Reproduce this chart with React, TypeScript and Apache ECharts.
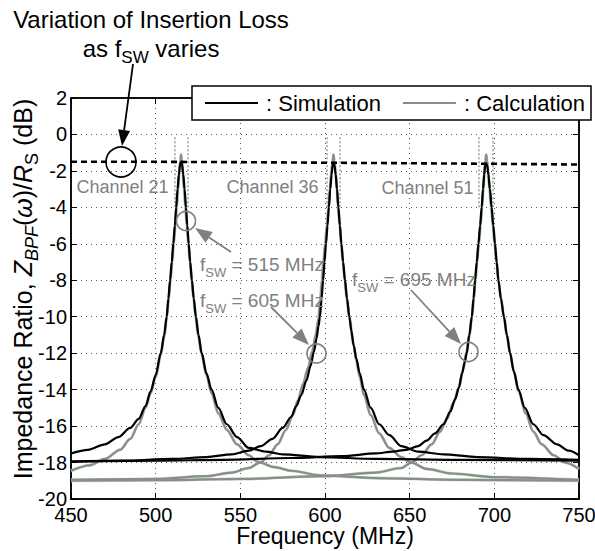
import React, { useEffect, useRef } from 'react';
import * as echarts from 'echarts';

const xMin = 450, xMax = 750, xStep = 50;
const yMin = -20, yMax = 2, yStep = 2;

// Simulation curves (black) [MHz, dB]
const sim21 = [[450,-17.5],[460,-17.3],[470,-17.0],[478,-16.6],[485,-16.1],[490,-15.6],[494,-14.9],[497,-14.1],[500,-13.2],[503,-12.0],[505,-11.0],[506.5,-10.0],[507.5,-9.0],[508.5,-8.0],[509.5,-7.0],[510.4,-6.0],[511.3,-5.0],[512.1,-4.0],[512.9,-3.0],[513.7,-2.2],[514.4,-1.65],[515,-1.5],[515.6,-1.65],[516.3,-2.2],[517.1,-3.0],[517.9,-4.0],[518.7,-5.0],[519.5,-6.0],[520.4,-7.0],[521.4,-8.0],[522.5,-9.0],[523.8,-10.0],[525.3,-11.0],[527.2,-12.0],[530,-13.1],[533,-14.0],[537,-15.0],[542,-15.9],[548,-16.6],[555,-17.2],[565,-17.4],[575,-17.55],[597,-17.7],[630,-17.8],[680,-17.85],[750,-17.9]];
const sim36 = [[450,-17.95],[480,-17.9],[510,-17.8],[530,-17.7],[545,-17.55],[555,-17.35],[562,-17.1],[569,-16.7],[575,-16.1],[580,-15.5],[583,-14.9],[586,-14.3],[589,-13.5],[591.5,-12.7],[593.5,-11.9],[595,-11.2],[596.2,-10.5],[597,-10.0],[598,-9.0],[598.9,-8.0],[599.7,-7.0],[600.6,-6.0],[601.5,-5.0],[602.3,-4.0],[603.1,-3.0],[603.9,-2.2],[604.5,-1.7],[605,-1.55],[605.6,-1.7],[606.3,-2.2],[607.1,-3.0],[607.9,-4.0],[608.8,-5.0],[609.7,-6.0],[610.7,-7.0],[611.8,-8.0],[613,-9.0],[614.4,-10.0],[615.6,-10.8],[617,-11.6],[618.5,-12.3],[620.5,-13.1],[623,-14.0],[627,-15.0],[632,-15.9],[638,-16.5],[645,-17.1],[655,-17.4],[670,-17.55],[690,-17.7],[720,-17.8],[750,-17.85]];
const sim51 = [[450,-17.95],[500,-17.9],[540,-17.85],[580,-17.75],[610,-17.65],[630,-17.5],[640,-17.4],[648,-17.3],[655,-17.1],[660,-16.8],[665,-16.4],[670,-15.9],[674,-15.2],[677,-14.5],[679,-13.9],[681,-13.1],[682.5,-12.5],[683.7,-12.0],[685.2,-11.0],[686.7,-10.0],[687.7,-9.0],[688.6,-8.0],[689.6,-7.0],[690.6,-6.0],[691.6,-5.0],[692.5,-4.0],[693.3,-3.0],[694,-2.2],[694.6,-1.7],[695.2,-1.6],[695.8,-1.7],[696.5,-2.2],[697.4,-3.0],[698.4,-4.0],[699.4,-5.0],[700.4,-6.0],[701.4,-7.0],[702.4,-8.0],[703.9,-9.0],[705.7,-10.0],[707.4,-11.0],[709.3,-12.0],[711.5,-13.0],[714.2,-14.0],[718,-15.0],[723,-15.9],[729,-16.5],[737,-17.0],[744,-17.35],[750,-17.6]];

// Calculation curves (gray)
const calc21 = [[450,-18.45],[461,-18.15],[470,-17.8],[479,-17.3],[485,-16.7],[490,-15.9],[494,-15.0],[497,-14.2],[500,-13.3],[503,-12.1],[505,-11.1],[506.6,-10.0],[507.7,-9.0],[508.7,-8.0],[509.7,-7.0],[510.6,-6.0],[511.6,-5.0],[512.4,-4.0],[513.2,-3.0],[514,-2.0],[514.6,-1.4],[515,-1.1],[515.4,-1.4],[516,-2.0],[516.8,-3.0],[517.6,-4.0],[518.4,-5.0],[519.4,-6.0],[520.3,-7.0],[521.3,-8.0],[522.4,-9.0],[523.6,-10.0],[525.1,-11.0],[527,-12.0],[530,-13.2],[533,-14.2],[537,-15.3],[542,-16.2],[548,-17.0],[555,-17.6],[560,-17.95],[570,-18.25],[580,-18.45],[597,-18.7],[630,-18.85],[680,-18.95],[750,-19.0]];
const calc36 = [[450,-18.95],[500,-18.9],[530,-18.75],[545,-18.55],[555,-18.3],[561.6,-18.0],[567,-17.6],[572,-17.0],[577,-16.2],[581,-15.4],[584,-14.6],[587,-13.7],[590,-12.8],[592.5,-11.9],[594.5,-11.0],[596.2,-10.1],[597.2,-9.1],[598.2,-8.0],[599.1,-7.0],[600.1,-6.0],[601.1,-5.0],[602.1,-4.0],[602.9,-3.0],[603.8,-2.0],[604.5,-1.45],[605,-1.1],[605.5,-1.45],[606.2,-2.0],[607,-3.0],[607.8,-4.0],[608.7,-5.0],[609.6,-6.0],[610.6,-7.0],[611.7,-8.0],[612.9,-9.0],[614.3,-10.0],[616.8,-11.5],[618.5,-12.4],[620.5,-13.3],[623,-14.3],[627,-15.4],[632,-16.4],[638,-17.2],[645,-17.7],[651,-18.0],[660,-18.35],[675,-18.6],[700,-18.8],[750,-18.95]];
const calc51 = [[450,-19.0],[500,-18.97],[550,-18.9],[600,-18.75],[630,-18.55],[645,-18.3],[651,-18.0],[657,-17.6],[663,-17.0],[668,-16.3],[672,-15.6],[676,-14.7],[679,-13.9],[681.5,-12.9],[683.5,-12.0],[685.3,-11.0],[686.8,-10.0],[687.9,-9.0],[688.8,-8.0],[689.8,-7.0],[690.8,-6.0],[691.8,-5.0],[692.7,-4.0],[693.5,-3.0],[694.2,-2.0],[694.7,-1.45],[695.2,-1.1],[695.7,-1.45],[696.3,-2.0],[697.2,-3.0],[698.2,-4.0],[699.2,-5.0],[700.2,-6.0],[701.3,-7.0],[702.4,-8.0],[703.9,-9.0],[705.6,-10.0],[707.4,-11.0],[709.3,-12.0],[711.5,-13.0],[714.4,-14.1],[718.5,-15.3],[723,-16.3],[728,-17.0],[735,-17.6],[742,-18.0],[750,-18.35]];

// Insertion loss envelope (dashed)
const insertionLoss = [[450,-1.5],[500,-1.5],[550,-1.52],[600,-1.55],[650,-1.58],[700,-1.61],[750,-1.65]];

const channelEdges = [511, 519, 601, 609, 691, 699];
const channelNames = ['Channel 21', 'Channel 36', 'Channel 51'];
const fswValues = ['515', '605', '695'];

const FONT = 'Arial, "Liberation Sans", Helvetica, sans-serif';
const GRAY = '#808080';

function arrow(x1: number, y1: number, x2: number, y2: number, color: string, headLen = 17, headW = 6.5) {
  const dx = x2 - x1, dy = y2 - y1, L = Math.hypot(dx, dy);
  const ux = dx / L, uy = dy / L;
  const bx = x2 - ux * headLen, by = y2 - uy * headLen;
  const px = -uy * headW, py = ux * headW;
  return [
    { type: 'line', shape: { x1, y1, x2: bx, y2: by }, style: { stroke: color, lineWidth: 1.8 }, z: 100 },
    { type: 'polygon', shape: { points: [[x2, y2], [bx + px, by + py], [bx - px, by - py]] }, style: { fill: color }, z: 100 },
  ];
}

function fswText(x: number, y: number, v: string) {
  return {
    type: 'text', x, y, z: 100,
    style: {
      text: `{f|f}{s|SW}{n| = ${v} MHz}`,
      fill: GRAY, font: `19px ${FONT}`, verticalAlign: 'middle',
      rich: {
        f: { fontSize: 19, fontFamily: FONT, fill: GRAY, lineHeight: 22, verticalAlign: 'bottom' },
        s: { fontSize: 13, fontFamily: FONT, fill: GRAY, lineHeight: 22, verticalAlign: 'bottom', padding: [0, 0, -5, 0] },
        n: { fontSize: 19, fontFamily: FONT, fill: GRAY, lineHeight: 22, verticalAlign: 'bottom' },
      },
    },
  };
}

export default function App() {
  const ref = useRef<HTMLDivElement>(null);
  useEffect(() => {
    const chart = echarts.init(ref.current!, null, { renderer: 'svg' });
    const lineS = (name: string, data: number[][], color: string, width: number, z: number) => ({
      name, type: 'line', data, symbol: 'none', showSymbol: false, smooth: 0.3, smoothMonotone: 'x',
      lineStyle: { color, width }, itemStyle: { color }, z, silent: true,
    });
    const option: any = {
      animation: false,
      backgroundColor: '#fff',
      textStyle: { fontFamily: FONT },
      grid: {
        left: 71, right: 16, top: 98, bottom: 52, show: true, borderColor: '#000', borderWidth: 1.5,
        backgroundColor: 'transparent', containLabel: false, outerBoundsMode: 'none',
      },
      legend: {
        left: 192, top: 86, orient: 'horizontal',
        data: [{ name: ': Simulation', icon: 'rect' }, { name: ': Calculation', icon: 'rect' }],
        itemWidth: 53, itemHeight: 2, itemGap: 22,
        padding: [6, 6, 6, 13],
        borderColor: '#000', borderWidth: 1.5, backgroundColor: '#fff',
        textStyle: { fontSize: 22, color: '#000', fontFamily: FONT, padding: [0, 0, 0, 3] },
        z: 20,
      },
      xAxis: [
        {
          type: 'value', min: xMin, max: xMax, interval: xStep,
          name: 'Frequency (MHz)', nameLocation: 'middle', nameGap: 25, nameMoveOverlap: false,
          nameTextStyle: { fontSize: 23, color: '#000', fontFamily: FONT, verticalAlign: 'top', lineHeight: 23 },
          axisLine: { show: true, onZero: false, lineStyle: { color: '#000', width: 1.5 } },
          axisTick: { show: true, inside: true, length: 6, lineStyle: { color: '#000' } },
          axisLabel: { fontSize: 20, color: '#000', margin: 6, fontFamily: FONT },
          splitLine: { show: true, lineStyle: { color: '#555', type: [1, 4], width: 1 } },
        },
        {
          type: 'value', min: xMin, max: xMax, interval: xStep, position: 'top',
          axisLine: { show: true, onZero: false, lineStyle: { color: '#000', width: 1.5 } },
          axisTick: { show: true, inside: true, length: 6, lineStyle: { color: '#000' } },
          axisLabel: { show: false }, splitLine: { show: false },
        },
      ],
      yAxis: [
        {
          type: 'value', min: yMin, max: yMax, interval: yStep,
          axisLine: { show: true, onZero: false, lineStyle: { color: '#000', width: 1.5 } },
          axisTick: { show: true, inside: true, length: 6, lineStyle: { color: '#000' } },
          axisLabel: { fontSize: 20, color: '#000', margin: 4, fontFamily: FONT },
          splitLine: { show: true, lineStyle: { color: '#555', type: [1, 4], width: 1 } },
        },
        {
          type: 'value', min: yMin, max: yMax, interval: yStep, position: 'right',
          axisLine: { show: true, onZero: false, lineStyle: { color: '#000', width: 1.5 } },
          axisTick: { show: true, inside: true, length: 6, lineStyle: { color: '#000' } },
          axisLabel: { show: false }, splitLine: { show: false },
        },
      ],
      series: [
        {
          name: 'Channel edges', type: 'line', data: [], symbol: 'none', silent: true, z: 3,
          markLine: {
            silent: true, symbol: ['none', 'none'], label: { show: false },
            lineStyle: { color: '#999', type: [2, 2], width: 1.5 },
            data: channelEdges.map((x) => [{ coord: [x, -0.15] }, { coord: [x, -4] }]),
          },
        },
        lineS('calc-edge-21', calc21, '#b9e0b9', 3.0, 4),
        lineS('calc-edge-36', calc36, '#b9e0b9', 3.0, 4),
        lineS('calc-edge-51', calc51, '#b9e0b9', 3.0, 4),
        lineS(': Calculation', calc21, '#8c8c8c', 2.2, 5),
        lineS(': Calculation', calc36, '#8c8c8c', 2.2, 5),
        lineS(': Calculation', calc51, '#8c8c8c', 2.2, 5),
        lineS(': Simulation', sim21, '#000', 2.2, 6),
        lineS(': Simulation', sim36, '#000', 2.2, 6),
        lineS(': Simulation', sim51, '#000', 2.2, 6),
        {
          name: 'Insertion loss', type: 'line', data: insertionLoss, symbol: 'none', silent: true, z: 7,
          lineStyle: { color: '#000', width: 2.6, type: [6, 4] },
        },
      ],
      graphic: [
        { type: 'text', x: 151, y: 19, z: 100, style: { text: 'Variation of Insertion Loss', font: `24px ${FONT}`, fill: '#000', align: 'center', verticalAlign: 'middle' } },
        {
          type: 'text', x: 151, y: 47, z: 100,
          style: {
            text: '{n|as f}{s|SW}{n| varies}', align: 'center', verticalAlign: 'middle', fill: '#000',
            rich: {
              n: { fontSize: 24, fontFamily: FONT, fill: '#000', lineHeight: 26, verticalAlign: 'bottom' },
              s: { fontSize: 17, fontFamily: FONT, fill: '#000', lineHeight: 26, verticalAlign: 'bottom', padding: [0, 0, -6, 0] },
            },
          },
        },
        ...arrow(133, 64, 122, 146, '#000', 16, 6),
        { type: 'circle', shape: { cx: 121, cy: 162, r: 15 }, style: { fill: 'none', stroke: '#000', lineWidth: 1.6 }, z: 100 },
        { type: 'text', x: 122.5, y: 187, z: 100, style: { text: channelNames[0], font: `18px ${FONT}`, fill: GRAY, align: 'center', verticalAlign: 'middle' } },
        { type: 'text', x: 272.5, y: 187, z: 100, style: { text: channelNames[1], font: `18px ${FONT}`, fill: GRAY, align: 'center', verticalAlign: 'middle' } },
        { type: 'text', x: 427.5, y: 188, z: 100, style: { text: channelNames[2], font: `18px ${FONT}`, fill: GRAY, align: 'center', verticalAlign: 'middle' } },
        { type: 'circle', shape: { cx: 186, cy: 221, r: 9.5 }, style: { fill: 'none', stroke: GRAY, lineWidth: 1.6 }, z: 100 },
        { type: 'circle', shape: { cx: 316.5, cy: 353.5, r: 9.5 }, style: { fill: 'none', stroke: GRAY, lineWidth: 1.6 }, z: 100 },
        { type: 'circle', shape: { cx: 468.5, cy: 352, r: 9.5 }, style: { fill: 'none', stroke: GRAY, lineWidth: 1.6 }, z: 100 },
        ...arrow(231, 252, 195, 228, GRAY),
        ...arrow(271, 307, 309, 345, GRAY),
        ...arrow(411, 290, 461, 344, GRAY),
        fswText(200, 263, fswValues[0]),
        fswText(200, 299, fswValues[1]),
        fswText(352, 278, fswValues[2]),
        {
          type: 'text', x: 21, y: 289, rotation: Math.PI / 2, z: 100,
          style: {
            text: '{n|Impedance Ratio, }{i|Z}{is|BPF}{n|(}{i|ω}{n|)/}{i|R}{s|S}{n| (dB)}',
            align: 'center', verticalAlign: 'middle', fill: '#000',
            rich: {
              n: { fontSize: 25, fontFamily: FONT, fill: '#000', lineHeight: 28, verticalAlign: 'bottom' },
              i: { fontSize: 25, fontFamily: FONT, fontStyle: 'italic', fill: '#000', lineHeight: 28, verticalAlign: 'bottom' },
              is: { fontSize: 18, fontFamily: FONT, fontStyle: 'italic', fill: '#000', lineHeight: 28, verticalAlign: 'bottom', padding: [0, 0, -6, 0] },
              s: { fontSize: 18, fontFamily: FONT, fill: '#000', lineHeight: 28, verticalAlign: 'bottom', padding: [0, 0, -6, 0] },
            },
          },
        },
      ],
    };
    chart.setOption(option);
    return () => chart.dispose();
  }, []);
  return <div ref={ref} style={{ position: 'fixed', left: 0, top: 0, width: 595, height: 551, background: '#fff' }} />;
}
